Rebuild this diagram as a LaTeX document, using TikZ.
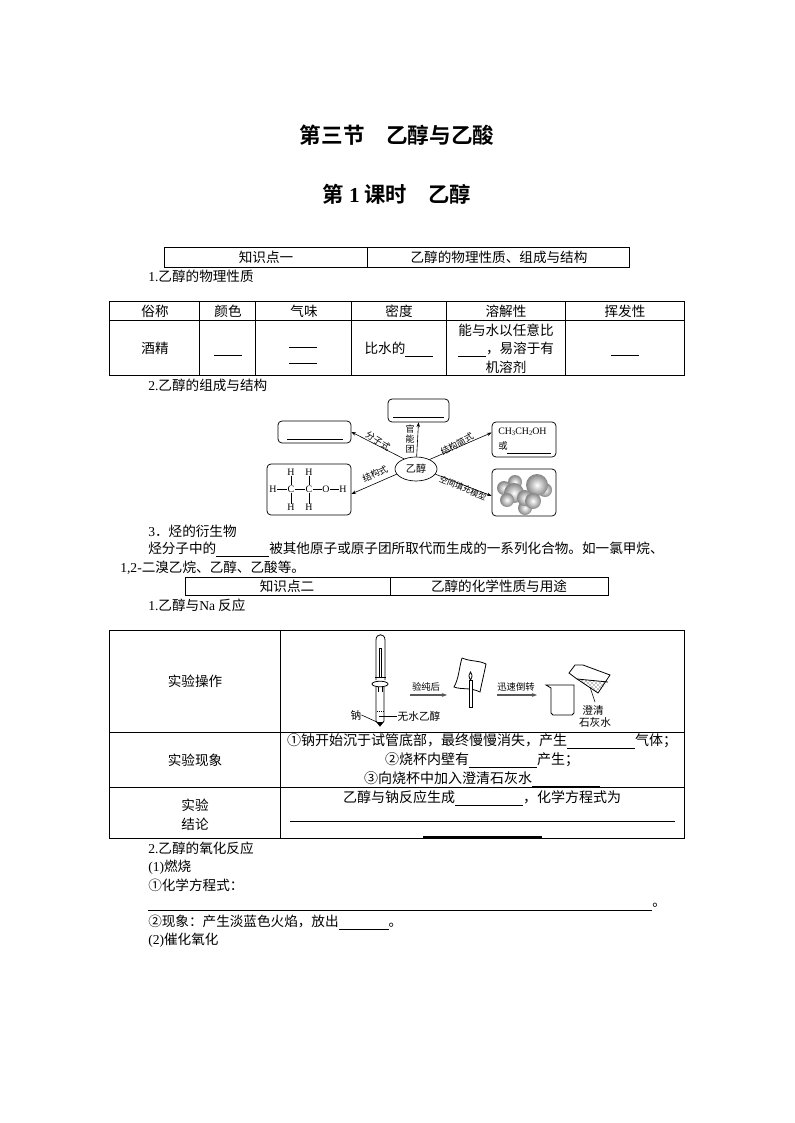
\documentclass[tikz,border=0pt]{standalone}
\usepackage{fontspec}
\setmainfont{Noto Sans CJK SC}[BoldFont={Noto Sans CJK SC Bold}]
\newfontfamily\latf{Liberation Serif}
\usetikzlibrary{arrows.meta,shapes.geometric,patterns}
\newcommand{\lat}[1]{{\latf #1}}
\newcommand{\blank}[1]{\rule[-2.2pt]{\dimexpr #1pt*3/4\relax}{0.5pt}}
\newcommand{\txt}[3]{\node[tx] (#1) at (#2) {#3};}
\newcommand{\ctr}[3]{\node[cx] (#1) at (#2) {#3};}
\newcommand{\ctrb}[3]{\node[cx,font=\fontsize{10.5pt}{12pt}\selectfont] (#1) at (#2) {#3};}
\tikzset{
 tx/.style={anchor=west,inner sep=0,font=\fontsize{10.2pt}{12pt}\selectfont},
 cx/.style={anchor=center,inner sep=0,font=\fontsize{10.2pt}{12pt}\selectfont},
 sm/.style={anchor=center,inner sep=0,font=\fontsize{6.7pt}{7pt}\selectfont},
 app/.style={anchor=center,inner sep=0,font=\fontsize{8pt}{9pt}\selectfont},
 apps/.style={anchor=center,inner sep=0,font=\fontsize{7pt}{8pt}\selectfont},
 mol/.style={anchor=center,inner sep=0,font=\latf\fontsize{7.4pt}{8pt}\selectfont},
 rbox/.style={draw,rounded corners=3pt,inner sep=0,line width=0.55pt},
 frame/.style={line width=0.75pt},
 arr/.style={-{Stealth[length=3.5pt,width=2.6pt]},line width=0.45pt},
 fatarr/.style={-{Stealth[length=4pt,width=3pt]},line width=0.9pt,black!65},
 thin1/.style={line width=0.45pt},
 tool/.style={line width=0.6pt},
}
\begin{document}
\begin{tikzpicture}[x=0.75pt,y=-0.75pt]
\useasboundingbox[fill=white] (0,0) rectangle (794,1123);
% titles
\node[anchor=center,inner sep=0,font=\fontsize{16.2pt}{18pt}\selectfont\bfseries] (t1) at (397,135) {第三节\hspace{1em}乙醇与乙酸};
\node[anchor=center,inner sep=0,font=\fontsize{16pt}{18pt}\selectfont\bfseries] (t2) at (397,194) {第 \lat{1} 课时\hspace{1em}乙醇};
% section box 1
\draw[frame] (164.5,247) rectangle (629.5,267) (367.5,247) -- (367.5,267);
\ctr{k1}{266,257}{知识点一}
\ctr{k1b}{499,257}{乙醇的物理性质、组成与结构}
\txt{s1}{148,276}{\lat{1.}乙醇的物理性质}
% table 1
\draw[frame] (109.5,301.5) rectangle (684.5,375) (109.5,320.5) -- (684.5,320.5);
\foreach \x in {199.5,255.5,351.5,446.5,565.5}{\draw[frame] (\x,301.5) -- (\x,375);}
\ctr{h1}{155,311}{俗称}\ctr{h2}{228,311}{颜色}\ctr{h3}{304,311}{气味}
\ctr{h4}{399,311}{密度}\ctr{h5}{506,311}{溶解性}\ctr{h6}{625,311}{挥发性}
\ctr{c1}{155,348}{酒精}
\draw[thin1] (214,355) -- (242,355) (289,347) -- (317,347) (289,363) -- (317,363) (611,355) -- (639,355);
\ctr{c4}{399,349}{比水的\blank{28}}
\ctr{c5a}{506,330}{能与水以任意比}
\ctr{c5b}{506,349}{\blank{28}，易溶于有}
\ctr{c5c}{506,367}{机溶剂}
\txt{s2}{148,385}{\lat{2.}乙醇的组成与结构}
% diagram
\node[rbox,minimum width=61*0.75pt,minimum height=23*0.75pt] (bt) at (418.5,410.5) {};
\node[rbox,minimum width=73*0.75pt,minimum height=22*0.75pt] (bl) at (314.5,432) {};
\node[rbox,minimum width=64*0.75pt,minimum height=35*0.75pt] (brt) at (524,439.5) {};
\node[rbox,minimum width=84*0.75pt,minimum height=51*0.75pt] (bll) at (309,489.5) {};
\node[rbox,minimum width=64*0.75pt,minimum height=47*0.75pt] (brb) at (524,492.5) {};
\node[draw,ellipse,line width=0.5pt,inner sep=0,minimum width=42*0.75pt,minimum height=24*0.75pt,font=\fontsize{7.6pt}{9pt}\selectfont] (eth) at (416,469) {乙醇};
\draw[arr] (eth.87) -- (bt.south);
\draw[arr] (eth.140) -- (bl.east);
\draw[arr] (eth.195) -- (bll.354);
\draw[arr] (eth.35) -- (brt.168);
\draw[arr] (eth.-15) -- (brb.186);
\draw[thin1] (393,417) -- (444,417) (287,439) -- (343,439) (507,453) -- (551,453);
\node[sm,align=center,font=\fontsize{6.7pt}{7.2pt}\selectfont] (l1) at (410,439) {官\\能\\团};
\node[sm,rotate=-32] (l2) at (378,441) {分子式};
\node[sm,rotate=28] (l3) at (457,444) {结构简式};
\node[sm,rotate=25] (l4) at (375,474) {结构式};
\node[sm,rotate=-23,font=\fontsize{6.3pt}{7pt}\selectfont] (l5) at (463,488) {空间填充模型};
\node[mol,anchor=west] (f1) at (498,432) {CH\raisebox{-1pt}{\fontsize{5pt}{5pt}\selectfont 3}CH\raisebox{-1pt}{\fontsize{5pt}{5pt}\selectfont 2}OH};
\node[sm,anchor=west,font=\fontsize{7pt}{8pt}\selectfont] (f2) at (498,446) {或};
% molecule
\node[mol] (m1) at (273,489) {H};\node[mol] (m2) at (291,489) {C};\node[mol] (m3) at (309,489) {C};
\node[mol] (m4) at (326,489) {O};\node[mol] (m5) at (343,489) {H};
\node[mol] (m6) at (291,472) {H};\node[mol] (m7) at (309,472) {H};
\node[mol] (m8) at (291,507) {H};\node[mol] (m9) at (309,507) {H};
\draw[thin1] (m1)--(m2) (m2)--(m3) (m3)--(m4) (m4)--(m5) (m6)--(m2) (m2)--(m8) (m7)--(m3) (m3)--(m9);
% space filling model
\foreach \x/\y/\r in {515/482/7,545/490/7,525/508/7,504/488/7,537/485/11,514/493/10,507/500/7,525/498/8,533/501/8}{
 \shade[inner color=white,outer color=black!48] (\x,\y) circle[radius=\r*0.75pt];}
% para 3
\txt{p3}{148,531}{\lat{3}．烃的衍生物}
\txt{p3a}{148,549}{烃分子中的\blank{53}被其他原子或原子团所取代而生成的一系列化合物。如一氯甲烷、}
\txt{p3b}{120,568}{\lat{1,2-}二溴乙烷、乙醇、乙酸等。}
% section box 2
\draw[frame] (185,577) rectangle (608,595) (390,577) -- (390,595);
\ctr{k2}{287,586}{知识点二}
\ctr{k2b}{499,586}{乙醇的化学性质与用途}
\txt{s3}{148,605}{\lat{1.}乙醇与\lat{Na} 反应}
% table 3
\draw[frame] (109.5,630) rectangle (684.5,838) (109.5,732) -- (684.5,732) (109.5,787) -- (684.5,787) (280,630) -- (280,838);
\ctr{e1}{195,681}{实验操作}
\ctr{e2}{195,760}{实验现象}
\ctr{e3}{195,805}{实验}
\ctr{e4}{195,824}{结论}
\ctrb{o1}{482,741}{①钠开始沉于试管底部，最终慢慢消失，产生\blank{68}气体；}
\ctrb{o2}{482,760}{②烧杯内壁有\blank{68}产生；}
\ctrb{o3}{482,779}{③向烧杯中加入澄清石灰水\blank{68}}
\ctrb{o4}{482,798}{乙醇与钠反应生成\blank{68}，化学方程式为}
\draw[thin1] (290,821) -- (675,821);
\draw[line width=0.9pt] (423,837) -- (542,837);
% apparatus: test tube
\draw[tool] (376,680) -- (376,640) .. controls (376,633) and (385,633) .. (385,640) -- (385,680);
\draw[tool] (379,677) -- (379,648) -- (381,648) -- (381,677);
\draw[tool] (375,677) -- (386,677);
\draw[tool,fill=white] (380,684) ellipse[x radius=8,y radius=2.8];
\draw[tool] (376,687) -- (376,721) -- (380,726) -- (384,721) -- (384,687);
\draw[tool] (378,687) -- (378,692) (382,687) -- (382,692);
\fill[black] (376.5,722) -- (383.5,722) -- (380,726) -- cycle;
\draw[thin1,densely dotted] (377,711) -- (384,711);
\draw[thin1] (379,716) -- (382,716);
\node[app] (na) at (356,715) {钠};
\node[app] (eo) at (419,716) {无水乙醇};
\coordinate (naE) at (379,723);
\coordinate (eoE) at (382,716);
\draw[thin1] (na.east) -- (naE);
\draw[thin1] (eo.west) -- (eoE);
% arrows
\node[apps] (a1) at (426,687) {验纯后};
\node[apps] (a2) at (516,687) {迅速倒转};
\coordinate (a1s) at (410,695);\coordinate (a1e) at (447,695);
\coordinate (a2s) at (497,695);\coordinate (a2e) at (537,695);
\draw[fatarr] (a1s) -- (a1e);
\draw[fatarr] (a2s) -- (a2e);
% paper and candle
\draw[tool] (462,658) .. controls (472,662) and (478,660) .. (486,664) .. controls (484,674) and (482,682) .. (480,692) .. controls (470,687) and (462,690) .. (454,687) .. controls (459,678) and (459,668) .. (462,658);
\draw[tool,fill=white] (469,680) rectangle (472,707);
\draw[tool] (470.5,680) .. controls (468,676) and (469,674) .. (470.5,672) .. controls (472,674) and (473,676) .. (470.5,680);
% upright beaker
\draw[tool] (546,685) -- (551,688) -- (551,713) -- (553,715) -- (572,715) -- (574,713) -- (574,685) -- cycle;
% inverted beaker
\fill[pattern=crosshatch dots,pattern color=black] (577,679) -- (608,682) -- (598,693) -- cycle;
\draw[tool] (577,679) -- (608,682);
\draw[tool] (569,673) -- (575,665) -- (583,665) -- (610,675) -- (598,693) -- (577,679) -- cycle;
\coordinate (lw) at (590,687);\coordinate (lwb) at (595,702);
\draw[thin1] (lw) -- (lwb);
\node[app] (cq1) at (593,710) {澄清};
\node[app] (cq2) at (595,722) {石灰水};
% bottom
\txt{b1}{148,848}{\lat{2.}乙醇的氧化反应}
\txt{b2}{148,867}{\lat{(1)}燃烧}
\txt{b3}{148,885}{①化学方程式：}
\draw[thin1] (148,910) -- (652,910);
\txt{b4}{652,905}{。}
\txt{b5}{148,922}{②现象：产生淡蓝色火焰，放出\blank{50}。}
\txt{b6}{148,940}{\lat{(2)}催化氧化}
\end{tikzpicture}
\end{document}
